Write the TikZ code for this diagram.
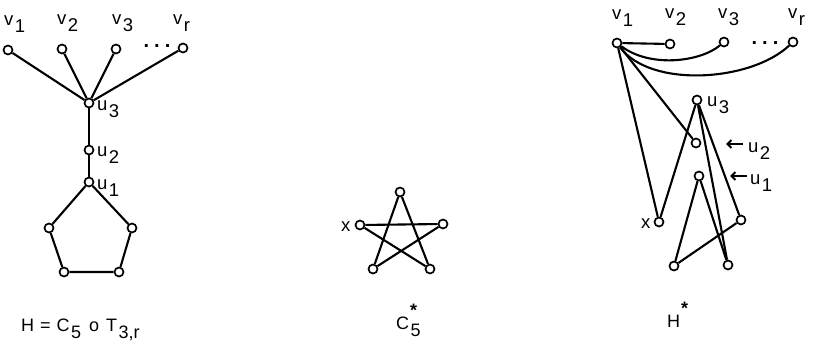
\documentclass[tikz,border=0pt]{standalone}
\usepackage{fontspec}
\setmainfont{Liberation Sans}
\usetikzlibrary{arrows.meta}
\newcommand{\lsub}[1]{\kern1.5pt\raisebox{-7pt}{#1}}
\newcommand{\lsup}[1]{\kern1pt\raisebox{13pt}{\bfseries #1}}
\begin{document}
\begin{tikzpicture}[x=1pt,y=-1pt,
  vtx/.style={circle,draw,fill=white,inner sep=0pt,minimum size=9pt,line width=1.7pt},
  lab/.style={inner sep=0pt,anchor=base west,font=\fontsize{18.5}{18}\selectfont},
  captext/.style={inner sep=0pt,anchor=base west,font=\fontsize{18}{18}\selectfont},
  edge/.style={line width=2.1pt},
  arr/.style={line width=2pt,-{Straight Barb[length=4pt,width=8pt]}},
  dots/.style={inner sep=0pt,font=\fontsize{20}{20}\selectfont\bfseries}]
\useasboundingbox (0,0) rectangle (815,359);
% ---------- left graph H ----------
\node[vtx] (a1) at (8,50) {};
\node[vtx] (a2) at (62,49) {};
\node[vtx] (a3) at (116,49) {};
\node[vtx] (ar) at (183,48) {};
\node[vtx] (au3) at (89,103) {};
\node[vtx] (au2) at (89,150) {};
\node[vtx] (au1) at (89,182) {};
\node[vtx] (ap2) at (132,228) {};
\node[vtx] (ap3) at (119,272) {};
\node[vtx] (ap4) at (64,272) {};
\node[vtx] (ap5) at (49,228) {};
\node[dots] (adots) at (157,46) {.\hspace{5pt}.\hspace{5pt}.};
\draw[edge] (a1) -- (au3) (a2) -- (au3) (a3) -- (au3) (ar) -- (au3);
\draw[edge] (au3) -- (au2) -- (au1);
\draw[edge] (au1) -- (ap2) -- (ap3) -- (ap4) -- (ap5) -- (au1);
\node[lab] (la1) at (4,25) {v\lsub{1}};
\node[lab] (la2) at (57,24) {v\lsub{2}};
\node[lab] (la3) at (112,24) {v\lsub{3}};
\node[lab] (lar) at (173,24) {v\lsub{r}};
\node[lab] (lau3) at (97,110) {u\lsub{3}};
\node[lab] (lau2) at (97,156) {u\lsub{2}};
\node[lab] (lau1) at (97,189) {u\lsub{1}};
% ---------- star C5* ----------
\node[vtx] (s1) at (400,192) {};
\node[vtx] (s2) at (443,224) {};
\node[vtx] (s3) at (430,269) {};
\node[vtx] (s4) at (373,269) {};
\node[vtx] (s5) at (360,225) {};
\draw[edge] (s5) -- (s2) (s1) -- (s4) (s1) -- (s3) (s5) -- (s3) (s2) -- (s4);
\node[lab] (lsx) at (341,231) {x};
% ---------- right graph H* ----------
\node[vtx] (b1) at (617,43) {};
\node[vtx] (b2) at (670,44) {};
\node[vtx] (b3) at (724,42) {};
\node[vtx] (br) at (793,42) {};
\node[vtx] (bu3) at (697,100) {};
\node[vtx] (bu2) at (696,143) {};
\node[vtx] (bu1) at (699,176) {};
\node[vtx] (bx) at (659,222) {};
\node[vtx] (bq) at (741,220) {};
\node[vtx] (bbl) at (674,266) {};
\node[vtx] (bbr) at (728,265) {};
\node[dots] (bdots) at (765,43) {.\hspace{5pt}.\hspace{5pt}.};
\draw[edge] (b1) -- (b2);
\draw[edge] (b1) .. controls (650,68) and (700,62) .. (b3);
\draw[edge] (b1) .. controls (650,88) and (750,82) .. (br);
\draw[edge] (b1) -- (bx) (b1) -- (bu2);
\draw[edge] (bx) -- (bu3) (bu3) -- (bq) (bu3) -- (bbr);
\draw[edge] (bu1) -- (bbl) (bu1) -- (bbr) (bbl) -- (bq);
\node[lab] (lb1) at (612,19) {v\lsub{1}};
\node[lab] (lb2) at (665,18) {v\lsub{2}};
\node[lab] (lb3) at (718,18) {v\lsub{3}};
\node[lab] (lbr) at (788,18) {v\lsub{r}};
\node[lab] (lbu3) at (707,106) {u\lsub{3}};
\node[lab] (lbu2) at (748,152) {u\lsub{2}};
\node[lab] (lbu1) at (750,184) {u\lsub{1}};
\coordinate (t2) at (743,144);
\coordinate (h2) at (726,144);
\coordinate (t1) at (747,176);
\coordinate (h1) at (730,176);
\draw[arr] (t2) -- (h2);
\draw[arr] (t1) -- (h1);
\node[lab] (lbx) at (641,228) {x};
% ---------- captions ----------
\node[captext] (capH) at (21,331) {H\hspace{6pt}=\hspace{6pt}C\lsub{5}\hspace{8pt}o\hspace{7pt}T\lsub{3,r}};
\node[captext] (capC) at (396,329) {C\rlap{\lsup{*}}\lsub{5}};
\node[captext] (capHs) at (667,327) {H\lsup{*}};
\end{tikzpicture}
\end{document}
